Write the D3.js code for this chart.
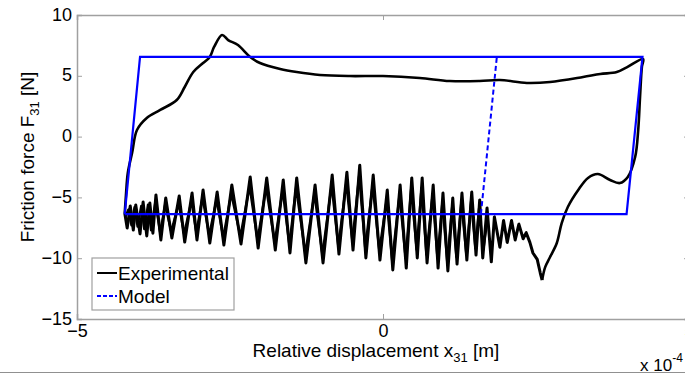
<!DOCTYPE html>
<html>
<head>
<meta charset="utf-8">
<script src="https://cdn.jsdelivr.net/npm/d3@7"></script>
<style>
  body { margin: 0; background: #fff; }
  text { font-family: "Liberation Sans", Arial, sans-serif; }
</style>
</head>
<body>
<script>
// axis ticks
var xTicks = [-5, 0, 5];
var yTicks = [-15, -10, -5, 0, 5, 10];

// model loop (x in 1e-4 m, y in N)
var modelX = [-4.22, -3.97, 4.24, 3.98, -4.22];
var modelY = [-6.37, 6.55, 6.55, -6.37, -6.37];
// model initial loading (dashed)
var modelDashX = [1.60, 1.86];
var modelDashY = [-6.37, 6.55];

// experimental: smooth part (upper branch and the way down on the right)
var branchX = [-4.22, -4.20, -4.17, -4.10, -4.02, -3.86, -3.64, -3.37, -3.24, -3.10, -2.94, -2.83, -2.76, -2.63,
  -2.53, -2.37, -2.17, -2.01, -1.68, -1.41, -1.03, -0.54, 0.00, 0.60, 1.09, 1.58, 1.91, 2.35, 2.73, 3.27,
  3.55, 3.82, 3.99, 4.25,
  4.23, 4.20, 4.17, 4.12, 4.00, 3.87, 3.71, 3.51, 3.35, 3.19, 3.02, 2.92, 2.84, 2.73, 2.65, 2.60];
var branchY = [-6.28, -4.80, -2.99, -1.35, 0.54, 1.53, 2.19, 3.01, 4.08, 5.31, 6.05, 6.55, 7.37, 8.36,
  7.94, 7.53, 6.55, 6.05, 5.56, 5.31, 5.07, 4.98, 4.98, 4.82, 4.57, 4.57, 4.65, 4.41, 4.49, 4.90,
  5.15, 5.31, 5.72, 6.38,
  5.72, 3.26, 0.54, -1.68, -3.32, -3.82, -3.57, -3.08, -3.40, -4.39, -5.79, -7.11, -8.75, -9.90, -10.73, -11.80];

// experimental: stick-slip oscillation back to the left
var oscX = [2.60, 2.57, 2.52, 2.45, 2.40, 2.34, 2.29, 2.22, 2.16, 2.10, 2.03, 1.97, 1.91, 1.82, 1.77, 1.70,
  1.63, 1.58, 1.52, 1.45, 1.37, 1.29, 1.21, 1.14, 1.06, 0.98, 0.90, 0.82, 0.72, 0.64, 0.56, 0.47,
  0.38, 0.28, 0.16, 0.07, -0.05, -0.16, -0.28, -0.38, -0.49, -0.59, -0.72, -0.83, -0.98, -1.11,
  -1.26, -1.41, -1.52, -1.63, -1.76, -1.90, -2.04, -2.17, -2.32, -2.47, -2.60, -2.71, -2.83, -2.94,
  -3.04, -3.12, -3.24, -3.33, -3.45, -3.55, -3.63, -3.71,
  -3.76, -3.81, -3.86, -3.92, -3.97, -4.04, -4.08, -4.13, -4.18, -4.22];
var oscY = [-11.80, -11.22, -10.10, -9.57, -8.70, -7.90, -8.40, -7.20, -8.50, -6.90, -8.70, -6.90, -9.10, -6.60, -10.30, -5.87,
  -9.98, -5.21, -9.74, -4.56, -10.15, -4.64, -10.48, -5.05, -11.05, -4.64, -10.81, -3.98, -10.39, -3.40, -9.98, -3.40,
  -10.81, -3.98, -10.97, -4.39, -10.15, -3.16, -9.98, -2.35, -9.33, -2.93, -9.66, -3.16, -10.39, -3.98,
  -10.39, -3.40, -9.57, -3.57, -9.33, -3.40, -9.16, -3.32, -8.83, -3.98, -8.91, -4.56, -8.75, -4.39,
  -8.50, -4.64, -8.67, -4.88, -8.34, -5.05, -8.50, -4.80,
  -7.94, -5.46, -8.17, -5.38, -8.00, -5.62, -7.68, -5.71, -7.52, -6.28];

// experimental, second (overlapping) cycle of the oscillation
var exp2X = [1.72, 1.64, 1.57, 1.51, 1.44, 1.36, 1.28, 1.20, 1.13, 1.05, 0.97, 0.89, 0.81, 0.71, 0.63, 0.55,
  0.46, 0.37, 0.27, 0.15, 0.06, -0.06, -0.17, -0.29, -0.39, -0.50, -0.60, -0.73, -0.84, -0.99,
  -1.12, -1.27, -1.42, -1.53, -1.64, -1.77, -1.91, -2.05, -2.18, -2.33, -2.48, -2.61, -2.72, -2.84,
  -2.95, -3.05, -3.13, -3.25, -3.34, -3.46, -3.56, -3.64, -3.72,
  -3.79, -3.84, -3.90, -3.95, -4.01, -4.06, -4.11, -4.16, -4.21];
var exp2Y = [-6.30, -9.30, -5.90, -9.20, -5.30, -9.60, -5.40, -9.90, -5.80, -10.30, -5.40, -10.00, -4.80, -9.70, -4.20, -9.30,
  -4.30, -10.00, -4.80, -10.20, -5.20, -9.40, -4.00, -9.20, -3.20, -8.60, -3.80, -9.00, -4.00, -9.70,
  -4.70, -9.60, -4.20, -8.90, -4.40, -8.70, -4.20, -8.50, -4.10, -8.20, -4.70, -8.30, -5.20, -8.10,
  -5.00, -7.90, -5.30, -8.00, -5.50, -7.80, -5.60, -7.90, -5.40,
  -7.70, -5.60, -7.60, -5.70, -7.40, -5.80, -7.30, -6.00, -6.60];

var svgWidth = 685;
var svgHeight = 374;
var margin = { top: 15, left: 77 };
var plotW = 612;   // x = -5..5, right edge falls just outside the window
var plotH = 304;

var svg = d3.select("body").append("svg")
  .attr("width", svgWidth)
  .attr("height", svgHeight);

var g = svg.append("g")
  .attr("transform", `translate(${margin.left}, ${margin.top})`);

var xScale = d3.scaleLinear().domain([-5, 5]).range([0, plotW]);
var yScale = d3.scaleLinear().domain([-15, 10]).range([plotH, 0]);

var axisColor = "#a0a0a0";

// ticks (inward, on all four sides)
var bottomAxis = g.append("g").attr("transform", `translate(0, ${plotH})`)
  .call(d3.axisBottom(xScale).tickValues(xTicks).tickSize(-5).tickPadding(5).tickFormat(d3.format("d")));
var topAxis = g.append("g")
  .call(d3.axisTop(xScale).tickValues(xTicks).tickSize(-5).tickFormat(""));
var leftAxis = g.append("g")
  .call(d3.axisLeft(yScale).tickValues(yTicks).tickSize(-5).tickPadding(5).tickFormat(d3.format("d")));
var rightAxis = g.append("g").attr("transform", `translate(${plotW}, 0)`)
  .call(d3.axisRight(yScale).tickValues(yTicks).tickSize(-5).tickFormat(""));

[bottomAxis, topAxis, leftAxis, rightAxis].forEach(function(a) {
  a.select(".domain").attr("stroke", axisColor).attr("stroke-width", 1.5);
  a.selectAll(".tick line").attr("stroke", axisColor);
  a.selectAll(".tick text").attr("fill", "#000").attr("font-size", "18px")
    .attr("font-family", "'Liberation Sans', Arial, sans-serif");
});
leftAxis.selectAll(".tick text").attr("dy", "0.28em");
bottomAxis.selectAll(".tick text").attr("dy", "0.72em");

var line = d3.line()
  .x(function(d) { return xScale(d[0]); })
  .y(function(d) { return yScale(d[1]); });
var smoothLine = d3.line()
  .x(function(d) { return xScale(d[0]); })
  .y(function(d) { return yScale(d[1]); })
  .curve(d3.curveCatmullRom.alpha(0.5));

function pairs(xs, ys) { return xs.map(function(x, i) { return [x, ys[i]]; }); }

g.append("path").datum(pairs(exp2X, exp2Y))
  .attr("d", line).attr("fill", "none").attr("stroke", "#000").attr("stroke-width", 2.4)
  .attr("stroke-linejoin", "round");
g.append("path").datum(pairs(oscX, oscY))
  .attr("d", line).attr("fill", "none").attr("stroke", "#000").attr("stroke-width", 3)
  .attr("stroke-linejoin", "round");
g.append("path").datum(pairs(branchX, branchY))
  .attr("d", smoothLine).attr("fill", "none").attr("stroke", "#000").attr("stroke-width", 2.6)
  .attr("stroke-linejoin", "round");

g.append("path").datum(pairs(modelX, modelY))
  .attr("d", line).attr("fill", "none").attr("stroke", "#0000ff").attr("stroke-width", 2.2);
g.append("path").datum(pairs(modelDashX, modelDashY))
  .attr("d", line).attr("fill", "none").attr("stroke", "#0000ff").attr("stroke-width", 2)
  .attr("stroke-dasharray", "5,3");

// legend
var leg = svg.append("g").attr("transform", "translate(92, 258)");
leg.append("rect").attr("width", 142).attr("height", 52)
  .attr("fill", "#fff").attr("stroke", axisColor).attr("stroke-width", 1.2);
leg.append("line").attr("x1", 5).attr("x2", 25).attr("y1", 15).attr("y2", 15)
  .attr("stroke", "#000").attr("stroke-width", 2);
leg.append("text").attr("x", 26).attr("y", 21.5).attr("font-size", "19px").text("Experimental");
leg.append("line").attr("x1", 5).attr("x2", 25).attr("y1", 38).attr("y2", 38)
  .attr("stroke", "#0000ff").attr("stroke-width", 2).attr("stroke-dasharray", "4,2");
leg.append("text").attr("x", 26).attr("y", 44.5).attr("font-size", "19px").text("Model");

// axis labels
var xl = svg.append("text").attr("x", 376).attr("y", 357)
  .attr("text-anchor", "middle").attr("font-size", "19px");
xl.append("tspan").text("Relative displacement x");
xl.append("tspan").attr("font-size", "13px").attr("dy", 5).text("31");
xl.append("tspan").attr("dy", -5).text(" [m]");

var yl = svg.append("text")
  .attr("transform", "translate(34, 157) rotate(-90)")
  .attr("text-anchor", "middle").attr("font-size", "19px");
yl.append("tspan").text("Friction force F");
yl.append("tspan").attr("font-size", "13px").attr("dy", 5).text("31");
yl.append("tspan").attr("dy", -5).text(" [N]");

var ex = svg.append("text").attr("x", 640).attr("y", 371).attr("font-size", "17px");
ex.append("tspan").text("x 10");
ex.append("tspan").attr("font-size", "12px").attr("dy", -9).text("-4");

// frame line at bottom of the screenshot
svg.append("line").attr("x1", 0).attr("x2", svgWidth).attr("y1", 372.5).attr("y2", 372.5)
  .attr("stroke", "#909090").attr("stroke-width", 1);
</script>
</body>
</html>
